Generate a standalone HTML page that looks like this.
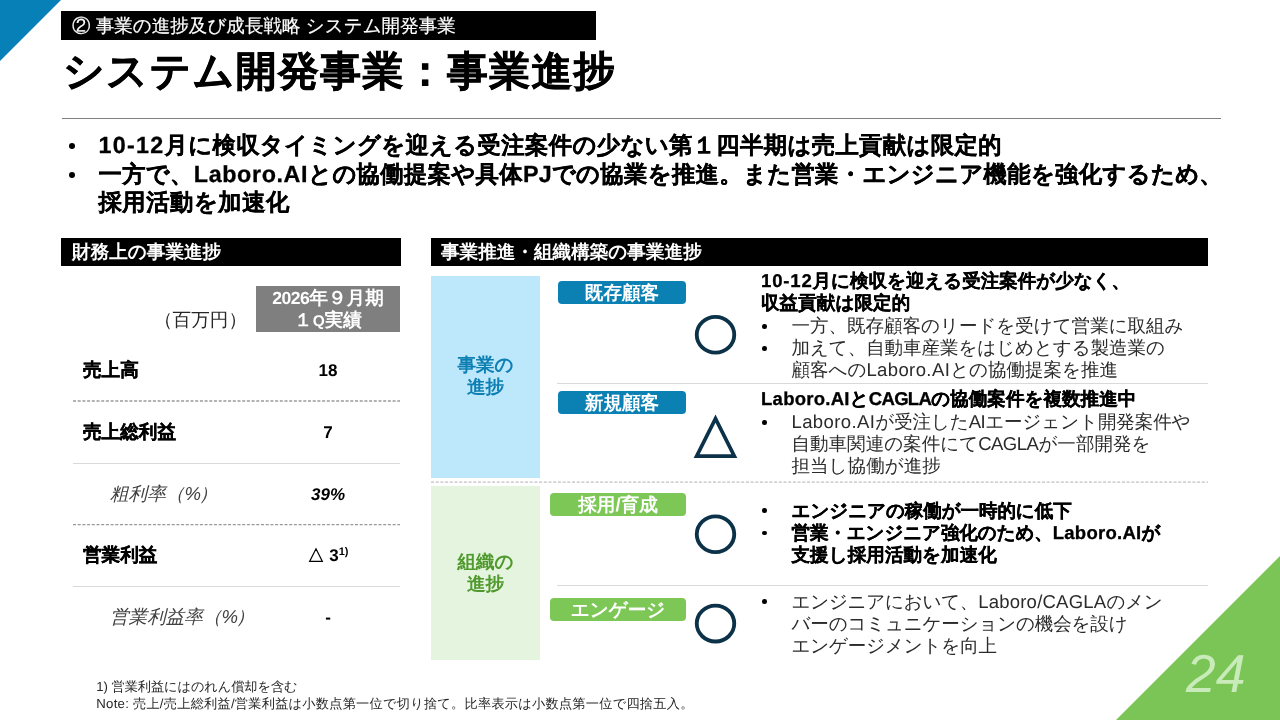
<!DOCTYPE html>
<html lang="ja">
<head>
<meta charset="utf-8">
<title>システム開発事業：事業進捗</title>
<style>
*{margin:0;padding:0;box-sizing:border-box}
html,body{width:1280px;height:720px;overflow:hidden;background:#fff}
body{will-change:transform;position:relative;font-family:"Liberation Sans",sans-serif;color:#000;text-rendering:geometricPrecision}
.a{position:absolute;white-space:nowrap}
.b{font-weight:bold;-webkit-text-stroke:.3px}
.bar{position:absolute;background:#000;color:#fff;height:28px;top:238px;font-size:18.6px;line-height:28px;font-weight:bold;white-space:nowrap}
.t{position:absolute;white-space:nowrap;font-size:18.55px;line-height:22.4px}
.lead{font-size:23.3px;line-height:28.7px}
.hd{font-size:18.5px;line-height:29px;color:#fff;-webkit-text-stroke:.2px}
.ttl{font-size:40.8px;line-height:54px;-webkit-text-stroke:.6px #000}
.fn{font-size:13.2px;line-height:16.6px;color:#262626}
.g{color:#2b2b2b}
.dot{position:absolute;width:4.6px;height:4.6px;border-radius:50%;background:#000}
.pill{position:absolute;height:23px;border-radius:4px;color:#fff;font-weight:bold;font-size:18.6px;line-height:23px;text-align:center;white-space:nowrap}
.blue{background:#0b80b3}
.green{background:#7cc755}
.hl{position:absolute;height:1px;background:#d9d9d9}
.row{-webkit-text-stroke:.3px;position:absolute;left:83px;font-size:18.6px;line-height:24px;font-weight:bold;white-space:nowrap}
.it{position:absolute;left:110px;font-size:18.6px;line-height:24px;font-style:italic;color:#404040;white-space:nowrap}
.num{position:absolute;left:278px;width:100px;text-align:center;font-size:17px;line-height:24px;font-weight:bold;white-space:nowrap}
</style>
</head>
<body>
<!-- corner decorations -->
<svg class="a" style="left:0;top:0" width="62" height="62" viewBox="0 0 62 62"><polygon points="0,0 61,0 0,61" fill="#0780b7"/></svg>
<svg class="a" style="left:1110px;top:550px" width="170" height="170" viewBox="0 0 170 170"><polygon points="170,6 170,170 6,170" fill="#7ac555"/></svg>
<div class="a" style="left:1186px;top:645px;font-size:53.5px;line-height:60px;font-style:italic;color:#c9ebba">24</div>

<!-- header -->
<div class="a" style="left:61px;top:11px;width:535px;height:29.4px;background:#000"></div>
<div class="a" style="left:62px;top:118px;width:1159px;height:1px;background:#7f7f7f"></div>

<!-- lead bullets -->
<div class="dot" style="left:69px;top:143px;width:6px;height:6px"></div>
<div class="dot" style="left:69px;top:172px;width:6px;height:6px"></div>

<!-- section bars -->
<div class="bar" style="left:61px;width:340px;padding-left:11px">財務上の事業進捗</div>
<div class="bar" style="left:431px;width:777px;padding-left:10px">事業推進・組織構築の事業進捗</div>

<!-- left table -->
<div class="a" style="left:154px;top:308px;font-size:18.6px;line-height:24px;color:#262626">（百万円）</div>
<div class="a b" style="left:256px;top:286px;width:144px;height:46px;background:#7f7f7f;color:#fff;-webkit-text-stroke:0;text-align:center;font-size:18.6px;line-height:22.4px;padding-top:1px"><span style="letter-spacing:-.5px;font-size:17.6px">2026</span>年９月期<br>１<span style="font-size:15.5px">Q</span>実績</div>

<div class="row" style="top:358px">売上高</div>
<div class="num" style="top:359px">18</div>
<svg class="a" style="left:73px;top:399px" width="327" height="4"><line x1="0" y1="2" x2="327" y2="2" stroke="#b3b3b3" stroke-width="1.8" stroke-dasharray="3 1.7"/></svg>
<div class="row" style="top:420px">売上総利益</div>
<div class="num" style="top:421px">7</div>
<div class="hl" style="left:73px;top:462.5px;width:327px"></div>
<div class="it" style="top:482px">粗利率（<span style="letter-spacing:-2px">%</span>）</div>
<div class="num" style="top:483px;font-style:italic">39%</div>
<svg class="a" style="left:73px;top:523px" width="327" height="4"><line x1="0" y1="1.6" x2="327" y2="1.6" stroke="#999" stroke-width="1.1" stroke-dasharray="3 1.7"/></svg>
<div class="row" style="top:543px">営業利益</div>
<div class="num" style="top:544px;left:278px">△ 3<sup style="font-size:11px;line-height:0;vertical-align:6px">1)</sup></div>
<div class="hl" style="left:73px;top:586px;width:327px"></div>
<div class="it" style="top:605px">営業利益率（<span style="letter-spacing:-2px">%</span>）</div>
<div class="num" style="top:606px">-</div>

<!-- right panel -->
<div class="a b" style="left:431px;top:276px;width:109px;height:202px;background:#bde8fb;color:#0e7fb3;-webkit-text-stroke:0;font-size:18.6px;line-height:22.4px;text-align:center;padding-top:78px">事業の<br>進捗</div>
<div class="a b" style="left:431px;top:486px;width:109px;height:174px;background:#e4f4de;color:#4f992d;-webkit-text-stroke:0;font-size:18.6px;line-height:22.4px;text-align:center;padding-top:65px">組織の<br>進捗</div>
<svg class="a" style="left:431px;top:480px" width="777" height="4"><line x1="0" y1="2.1" x2="777" y2="2.1" stroke="#d2d2d2" stroke-width="1.9" stroke-dasharray="3 1.7"/></svg>

<div class="pill blue" style="left:558px;top:281px;width:128px">既存顧客</div>
<div class="pill blue" style="left:558px;top:391px;width:128px">新規顧客</div>
<div class="pill green" style="left:550px;top:493px;width:136px">採用/育成</div>
<div class="pill green" style="left:550px;top:598px;width:136px">エンゲージ</div>

<div class="hl" style="left:557px;top:383px;width:651px"></div>
<div class="hl" style="left:557px;top:585px;width:651px"></div>

<svg class="a" style="left:690px;top:310px" width="52" height="340" viewBox="690 310 52 340" fill="none" stroke="#0c3249" stroke-width="3.85">
<ellipse cx="715.5" cy="334.8" rx="18.75" ry="17.9"/>
<path d="M715.5 414.6L737.35 457.9L693.65 457.9ZM715.5 422.8L731.34 454.2L699.66 454.2Z" fill="#0c3249" fill-rule="evenodd" stroke="none"/>
<ellipse cx="715.5" cy="534.3" rx="18.75" ry="17.9"/>
<ellipse cx="715.5" cy="623.6" rx="18.75" ry="17.9"/>
</svg>

<!-- right text block 1 -->
<div class="dot" style="left:762px;top:324px"></div>
<div class="dot" style="left:762px;top:346px"></div>

<!-- right text block 2 -->
<div class="dot" style="left:762px;top:420px"></div>

<!-- right text block 3 -->
<div class="dot" style="left:762px;top:508px"></div>
<div class="dot" style="left:762px;top:530.5px"></div>

<!-- right text block 4 -->
<div class="dot" style="left:762px;top:599px"></div>

<div class="a hd" style="left:72px;top:11.4px;letter-spacing:0.04px">② 事業の進捗及び成長戦略 システム開発事業</div>
<div class="a b ttl" style="left:63.1px;top:44px;letter-spacing:1.43px">システム開発事業：事業進捗</div>
<div class="a fn" style="left:96.3px;top:679px;letter-spacing:-0.06px">1) 営業利益にはのれん償却を含む</div>
<div class="a fn" style="left:96.3px;top:695.6px;letter-spacing:0.25px">Note: 売上/売上総利益/営業利益は小数点第一位で切り捨て。比率表示は小数点第一位で四捨五入。</div>
<div class="a b lead" style="left:98.5px;top:131px;letter-spacing:0.41px"><span class="l" style="letter-spacing:1.28px">10-12</span>月に検収タイミングを迎える受注案件の少ない第１四半期は売上貢献は限定的</div>
<div class="a b lead" style="left:98.5px;top:159.7px;letter-spacing:0.38px">一方で、<span class="l" style="letter-spacing:0.63px">Laboro.AI</span>との協働提案や具体<span class="l" style="letter-spacing:0.25px">PJ</span>での協業を推進。また営業・エンジニア機能を強化するため、</div>
<div class="a b lead" style="left:98.5px;top:188.4px;letter-spacing:0.56px">採用活動を加速化</div>
<div class="t b" style="left:761px;top:270px;letter-spacing:-0.04px"><span class="l" style="letter-spacing:0.84px">10-12</span>月に検収を迎える受注案件が少なく、</div>
<div class="t b" style="left:761px;top:292.3px;letter-spacing:0.08px">収益貢献は限定的</div>
<div class="t g" style="left:791.5px;top:314.6px;letter-spacing:-0.03px">一方、既存顧客のリードを受けて営業に取組み</div>
<div class="t g" style="left:791.5px;top:336.9px;letter-spacing:-0.08px">加えて、自動車産業をはじめとする製造業の</div>
<div class="t g" style="left:791.5px;top:359.2px;letter-spacing:-0.03px">顧客への<span class="l" style="letter-spacing:0.38px">Laboro.AI</span>との協働提案を推進</div>
<div class="t b" style="left:761px;top:388px;letter-spacing:0.03px"><span class="l" style="letter-spacing:0.25px">Laboro.AI</span>と<span class="l" style="letter-spacing:-0.68px">CAGLA</span>の協働案件を複数推進中</div>
<div class="t g" style="left:791.5px;top:410.5px;letter-spacing:-0.11px"><span class="l" style="letter-spacing:0.38px">Laboro.AI</span>が受注した<span class="l" style="letter-spacing:-0.51px">AI</span>エージェント開発案件や</div>
<div class="t g" style="left:791.5px;top:432.8px;letter-spacing:0.00px">自動車関連の案件にて<span class="l" style="letter-spacing:-0.51px">CAGLA</span>が一部開発を</div>
<div class="t g" style="left:791.5px;top:455.1px;letter-spacing:0.03px">担当し協働が進捗</div>
<div class="t b" style="left:791.5px;top:499.5px;letter-spacing:-0.09px">エンジニアの稼働が一時的に低下</div>
<div class="t b" style="left:791.5px;top:521.8px;letter-spacing:-0.12px">営業・エンジニア強化のため、<span class="l" style="letter-spacing:0.25px">Laboro.AI</span>が</div>
<div class="t b" style="left:791.5px;top:544.1px;letter-spacing:0.06px">支援し採用活動を加速化</div>
<div class="t g" style="left:791.5px;top:590.5px;letter-spacing:-0.26px">エンジニアにおいて、<span class="l" style="letter-spacing:0.22px">Laboro/CAGLA</span>のメン</div>
<div class="t g" style="left:791.5px;top:612.8px;letter-spacing:-0.18px">バーのコミュニケーションの機会を設け</div>
<div class="t g" style="left:791.5px;top:635.1px;letter-spacing:-0.18px">エンゲージメントを向上</div>

<!-- footnotes -->
</body>
</html>
